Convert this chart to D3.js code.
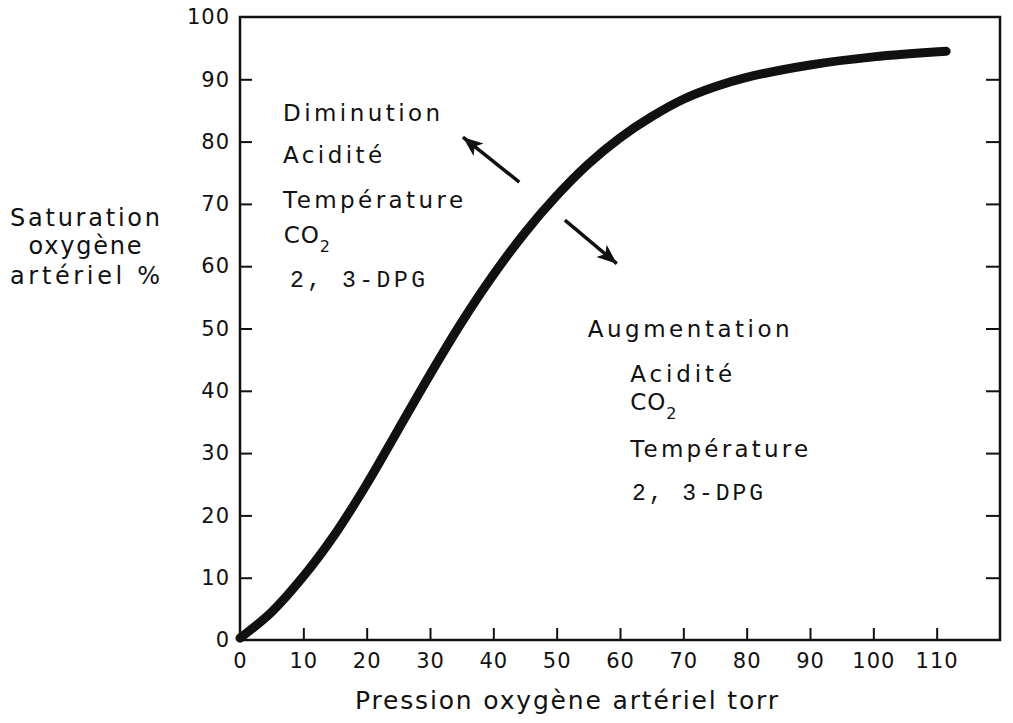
<!DOCTYPE html>
<html>
<head>
<meta charset="utf-8">
<script src="https://cdn.jsdelivr.net/npm/d3@7"></script>
<style>
    body { margin: 0; background: #fff; }
    text { font-family: "DejaVu Sans", sans-serif; fill: #111; }
</style>
</head>
<body>
<div id="chart"></div>
<script>
// oxygen dissociation curve
var pressure = [0, 5, 10, 15, 20, 25, 30, 35, 40, 45, 50, 55, 60, 65, 70, 75, 80, 90, 100, 111.5];
var saturation = [0.3, 4.5, 10.2, 17.0, 25.0, 33.8, 42.6, 51.0, 58.6, 65.4, 71.3, 76.4, 80.6, 84.0, 86.8, 88.8, 90.3, 92.3, 93.6, 94.5];

var xTicks = [0, 10, 20, 30, 40, 50, 60, 70, 80, 90, 100, 110];
var yTicks = [0, 10, 20, 30, 40, 50, 60, 70, 80, 90, 100];

var yTitle = ["Saturation", "oxygène", "artériel %"];
var xTitle = "Pression oxygène artériel torr";

var leftNotes = ["Diminution", "Acidité", "Température", "CO", "2, 3-DPG"];
var rightNotes = ["Augmentation", "Acidité", "CO", "Température", "2, 3-DPG"];

var width = 1013, height = 723;
var svg = d3.select("#chart")
    .append("svg")
    .attr("width", width)
    .attr("height", height);

var xScale = d3.scaleLinear().domain([0, 120]).range([240, 1000]);
var yScale = d3.scaleLinear().domain([0, 100]).range([640, 17]);

var defs = svg.append("defs");
defs.append("marker")
    .attr("id", "head")
    .attr("markerUnits", "userSpaceOnUse")
    .attr("viewBox", "0 -9 22 18")
    .attr("refX", 20)
    .attr("refY", 0)
    .attr("markerWidth", 22)
    .attr("markerHeight", 18)
    .attr("orient", "auto")
    .append("path")
    .attr("d", "M0,-8L20,0L0,8L5,0Z")
    .attr("fill", "#111");

// frame
svg.append("rect")
    .attr("x", xScale(0))
    .attr("y", yScale(100))
    .attr("width", xScale(120) - xScale(0))
    .attr("height", yScale(0) - yScale(100))
    .attr("fill", "none")
    .attr("stroke", "#111")
    .attr("stroke-width", 2.5);

var xAxis = d3.axisBottom(xScale).tickValues(xTicks).tickSizeInner(-12).tickSizeOuter(0).tickPadding(13);
var yAxis = d3.axisLeft(yScale).tickValues(yTicks).tickSizeInner(-12).tickSizeOuter(0).tickPadding(10);
var yAxisR = d3.axisRight(yScale).tickValues(yTicks.slice(1, -1)).tickSizeInner(-14).tickSizeOuter(0).tickFormat("");

var gX = svg.append("g")
    .attr("transform", "translate(0," + yScale(0) + ")")
    .call(xAxis);
var gY = svg.append("g")
    .attr("transform", "translate(" + xScale(0) + ",0)")
    .call(yAxis);
var gYR = svg.append("g")
    .attr("transform", "translate(" + xScale(120) + ",0)")
    .call(yAxisR);

[gX, gY, gYR].forEach(function(g) {
    g.select(".domain").remove();
    g.selectAll(".tick line").attr("stroke", "#111").attr("stroke-width", 2);
    g.selectAll(".tick text")
        .style("font-family", "DejaVu Sans, sans-serif")
        .style("font-size", "21px")
        .style("letter-spacing", "1px")
        .attr("fill", "#111");
});
gX.selectAll(".tick").filter(function(d) { return d === 0; }).select("line").remove();
gY.selectAll(".tick").filter(function(d) { return d === 0 || d === 100; }).select("line").remove();

// curve
var line = d3.line()
    .x(function(d) { return xScale(d[0]); })
    .y(function(d) { return yScale(d[1]); })
    .curve(d3.curveCatmullRom.alpha(0.5));

svg.append("path")
    .datum(d3.zip(pressure, saturation))
    .attr("fill", "none")
    .attr("stroke", "#111")
    .attr("stroke-width", 9)
    .attr("stroke-linecap", "round")
    .attr("stroke-linejoin", "round")
    .attr("d", line);

// arrows
var arrows = [
    [[44.1, 73.5], [35.2, 80.7]],
    [[51.3, 67.4], [59.5, 60.4]]
];
svg.selectAll(".arrow")
    .data(arrows)
    .enter().append("line")
    .attr("class", "arrow")
    .attr("x1", function(d) { return xScale(d[0][0]); })
    .attr("y1", function(d) { return yScale(d[0][1]); })
    .attr("x2", function(d) { return xScale(d[1][0]); })
    .attr("y2", function(d) { return yScale(d[1][1]); })
    .attr("stroke", "#111")
    .attr("stroke-width", 3.5)
    .attr("marker-end", "url(#head)");

// y title
var yPos = [226, 254, 284], yLen = [150, 113, 150];
svg.selectAll(".ytitle")
    .data(yTitle)
    .enter().append("text")
    .attr("class", "ytitle")
    .attr("x", 85)
    .attr("y", function(d, i) { return yPos[i]; })
    .attr("text-anchor", "middle")
    .attr("textLength", function(d, i) { return yLen[i]; })
    .attr("lengthAdjust", "spacing")
    .style("font-size", "24px")
    .text(function(d) { return d; });

// x title
svg.append("text")
    .attr("x", 355)
    .attr("y", 709)
    .attr("textLength", 423)
    .attr("lengthAdjust", "spacing")
    .style("font-size", "25px")
    .text(xTitle);

// annotation blocks, anchored in data units
var leftPos = [[6.8, 83.3], [6.8, 76.6], [6.8, 69.3], [6.9, 63.7], [7.9, 56.7]];
var leftLen = [157, 99, 180, null, 135];
var rightPos = [[54.9, 48.6], [61.6, 41.4], [61.6, 36.9], [61.6, 29.4], [61.9, 22.5]];
var rightLen = [202, 102, null, 178, 131];

function notes(labels, pos, len, cls) {
    var t = svg.selectAll("." + cls)
        .data(labels)
        .enter().append("text")
        .attr("class", cls)
        .attr("x", function(d, i) { return xScale(pos[i][0]); })
        .attr("y", function(d, i) { return yScale(pos[i][1]); })
        .style("font-size", "23px")
        .style("font-family", function(d) { return d.indexOf("DPG") >= 0 ? "Liberation Mono, monospace" : null; });
    t.append("tspan")
        .attr("textLength", function(d, i) { return len[i]; })
        .attr("lengthAdjust", "spacing")
        .style("letter-spacing", function(d) { return d === "CO" ? "1px" : null; })
        .text(function(d) { return d; });
    t.filter(function(d) { return d === "CO"; })
        .append("tspan")
        .attr("dy", 9)
        .style("font-size", "16px")
        .text("2");
}
notes(leftNotes, leftPos, leftLen, "lnote");
notes(rightNotes, rightPos, rightLen, "rnote");
</script>
</body>
</html>
